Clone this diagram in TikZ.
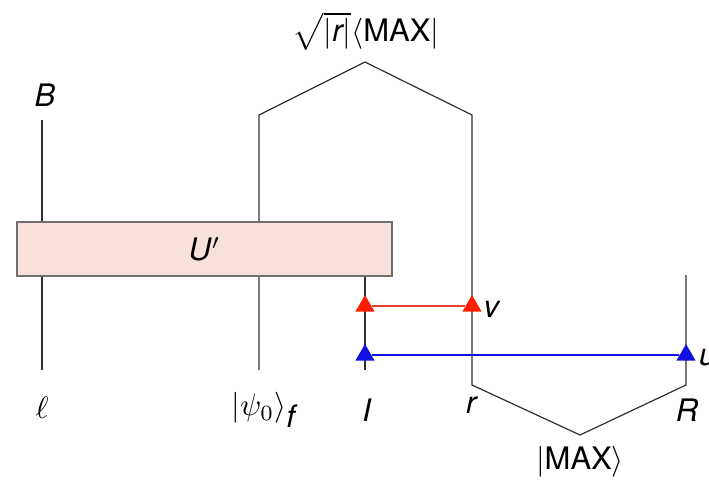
\documentclass[tikz,border=0pt]{standalone}
\usepackage{graphicx}
\usepackage{fontspec}
\setmainfont{TeX Gyre Heros}
\usetikzlibrary{shapes.geometric}
\definecolor{wire}{HTML}{303030}
\definecolor{boxfill}{HTML}{F9E1DB}
\definecolor{boxline}{HTML}{707070}
\definecolor{redline}{HTML}{E8402A}
\definecolor{redtri}{HTML}{FF1E00}
\definecolor{blueline}{HTML}{1010E0}
\newcommand\scl[1]{\scalebox{3.1}{\fontsize{10}{12}\selectfont #1}}
\begin{document}
\begin{tikzpicture}[x=1pt,y=-1pt,
  wireline/.style={draw=wire,line width=1.2pt},
  lbl/.style={font=\fontsize{31}{36}\selectfont,inner sep=0pt},
  gate/.style={draw=boxline,fill=boxfill,line width=1.2pt,minimum width=375pt,minimum height=54pt,inner sep=0pt,font=\fontsize{31}{36}\selectfont},
  tri/.style={regular polygon,regular polygon sides=3,minimum size=22pt,inner sep=0pt}
]
\useasboundingbox (0,0) rectangle (709,483);
% coordinates
\coordinate (Btop) at (42,120);
\coordinate (Bbot) at (42,370);
\coordinate (Pbot) at (259,370);
\coordinate (Ptop) at (259,115);
\coordinate (peak) at (365,62);
\coordinate (rtop) at (472,115);
\coordinate (rbot) at (472,385);
\coordinate (valley) at (580,435);
\coordinate (Rbot) at (686,385);
\coordinate (Rtop) at (686,275);
\coordinate (Itop) at (365,276);
\coordinate (Ibot) at (365,370);
% wires
\draw[wireline] (Btop) -- (Bbot);
\draw[wireline] (Pbot) -- (Ptop) -- (peak) -- (rtop) -- (rbot) -- (valley) -- (Rbot) -- (Rtop);
\draw[wireline] (Itop) -- (Ibot);
% gate
\node[gate] (U) at (204.5,249) {\scl{\textit{U}$'$}};
% red
\node[tri,fill=redtri] (v1) at (365,306) {};
\node[tri,fill=redtri] (v2) at (472,306) {};
\draw[draw=redline,line width=1.8pt] (v1) -- (v2);
% blue
\node[tri,fill=blueline] (u1) at (365,355) {};
\node[tri,fill=blueline] (u2) at (686,355) {};
\draw[draw=blueline,line width=1.8pt] (u1) -- (u2);
% labels
\node[lbl] (lB) at (45,95) {\textit{B}};
\node[lbl] (ll) at (42,408) {\scl{$\ell$}};
\node[lbl] (lpsi) at (264,410) {\scl{$|\psi_0\rangle_{\textit{f}}$}};
\node[lbl] (lI) at (367,410) {\textit{I}};
\node[lbl] (lr) at (472,405) {\textit{r}};
\node[lbl] (lR) at (687,410) {\textit{R}};
\node[lbl] (lv) at (492,309) {\textit{v}};
\node[lbl,anchor=west] (lu) at (699,358) {\textit{u}};
\node[lbl,anchor=base] (ltop) at (366,41) {\scl{$\sqrt{|\textit{r}|}\langle\mbox{MAX}|$}};
\node[lbl] (lbot) at (580,462) {\scl{$|\mbox{MAX}\rangle$}};
\end{tikzpicture}
\end{document}
